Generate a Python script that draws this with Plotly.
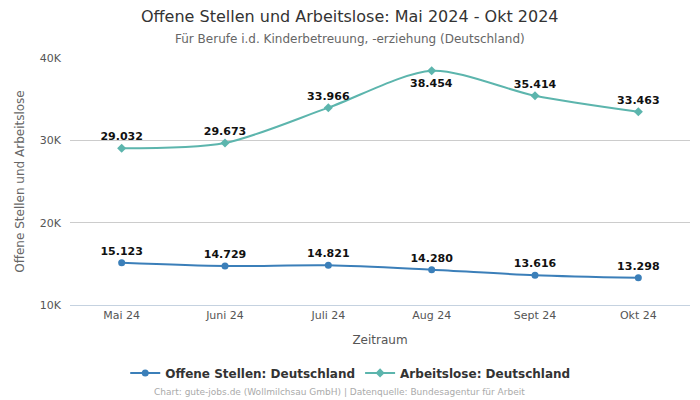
import plotly.graph_objects as go

months = ["Mai 24", "Juni 24", "Juli 24", "Aug 24", "Sept 24", "Okt 24"]
offene_stellen = [15123, 14729, 14821, 14280, 13616, 13298]
arbeitslose = [29032, 29673, 33966, 38454, 35414, 33463]
arbeitslose_label_below = [False, False, False, True, False, False]
y_tickvals = [10000, 20000, 30000, 40000]
y_ticktext = ["10K", "20K", "30K", "40K"]

FONT = "DejaVu Sans"


def fmt(v):
    return f"{v:,.0f}".replace(",", ".")


fig = go.Figure()
fig.add_trace(go.Scatter(
    x=months, y=offene_stellen, name="Offene Stellen: Deutschland",
    mode="lines+markers+text", line=dict(color="#3b7fb9", width=2, shape="spline", smoothing=0.8),
    marker=dict(symbol="circle", size=7, color="#3b7fb9"),
    texttemplate="<b>%{y:,.0f}</b>", textposition="top center",
    textfont=dict(family=FONT, size=11, color="#111"),
))
top_text = ["" if b else f"<b>{fmt(v)}</b>" for v, b in zip(arbeitslose, arbeitslose_label_below)]
fig.add_trace(go.Scatter(
    x=months, y=arbeitslose, name="Arbeitslose: Deutschland",
    mode="lines+markers+text", line=dict(color="#5cb5ad", width=2, shape="spline", smoothing=0.8),
    marker=dict(symbol="diamond", size=7, color="#5cb5ad"),
    text=top_text, textposition="top center",
    textfont=dict(family=FONT, size=11, color="#111"),
))

annotations = [
    dict(text="Offene Stellen und Arbeitslose: Mai 2024 - Okt 2024",
         xref="paper", yref="paper", x=0.452, xanchor="center", y=1.166, yanchor="middle",
         showarrow=False, font=dict(size=16, color="#333")),
    dict(text="Für Berufe i.d. Kinderbetreuung, -erziehung (Deutschland)",
         xref="paper", yref="paper", x=0.452, xanchor="center", y=1.077, yanchor="middle",
         showarrow=False, font=dict(size=12, color="#666")),
    dict(text="Chart: gute-jobs.de (Wollmilchsau GmbH) | Datenquelle: Bundesagentur für Arbeit",
         xref="paper", yref="paper", x=0.434, xanchor="center", y=-0.352, yanchor="middle",
         showarrow=False, font=dict(size=9, color="#aaa")),
]
for m, v, b in zip(months, arbeitslose, arbeitslose_label_below):
    if b:
        annotations.append(dict(
            text=f"<b>{fmt(v)}</b>", x=m, y=v, xref="x", yref="y",
            yshift=-13, showarrow=False, font=dict(family=FONT, size=11, color="#111"),
        ))

fig.update_layout(
    width=700, height=400,
    separators=",.",
    font=dict(family=FONT, color="#555"),
    paper_bgcolor="white", plot_bgcolor="white",
    margin=dict(l=70, r=10, t=58, b=95, autoexpand=False),
    showlegend=True,
    xaxis=dict(
        range=[-0.5, 5.5], showgrid=False, showline=True, linecolor="#c5d2e0",
        ticks="", tickfont=dict(size=11, color="#555"), automargin=False,
        title=dict(text="Zeitraum", font=dict(size=12, color="#555"), standoff=14),
    ),
    yaxis=dict(
        range=[10000, 40000], tickvals=y_tickvals, ticktext=y_ticktext,
        showgrid=True, gridcolor="#cccccc", zeroline=False, automargin=False,
        tickfont=dict(size=11, color="#555"), ticklabelstandoff=8,
        title=dict(text="Offene Stellen und Arbeitslose", font=dict(size=12, color="#666"), standoff=12),
    ),
    legend=dict(
        orientation="h", x=0.452, xanchor="center", y=-0.275, yanchor="middle",
        itemwidth=30,
        font=dict(size=12, color="#333", weight="bold"),
    ),
    annotations=annotations,
)

fig.write_html("out.html", config={"displayModeBar": False},
               post_script="document.body.style.margin='0';document.body.style.overflow='hidden';")
